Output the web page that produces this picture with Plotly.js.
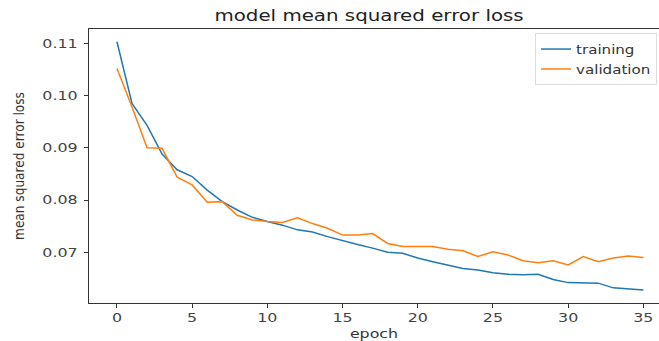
<!DOCTYPE html>
<html>
<head>
<meta charset="utf-8">
<script src="https://cdn.plot.ly/plotly-3.0.1.min.js"></script>
<style>html,body{margin:0;padding:0;background:#fff;}#chart{width:659px;height:341px;}</style>
</head>
<body>
<div id="chart"></div>
<script>
const epochs = [0,1,2,3,4,5,6,7,8,9,10,11,12,13,14,15,16,17,18,19,20,21,22,23,24,25,26,27,28,29,30,31,32,33,34,35];
const training = [0.1103,0.0985,0.0943,0.0888,0.0858,0.0845,0.0819,0.0797,0.0781,0.0767,0.0759,0.0752,0.0743,0.0739,0.0730,0.0722,0.0715,0.0708,0.0700,0.0698,0.0689,0.0682,0.0676,0.0669,0.0666,0.0661,0.0658,0.0657,0.0658,0.0648,0.0642,0.0641,0.0641,0.0632,0.0630,0.0628];
const validation = [0.1052,0.0978,0.0900,0.0899,0.0844,0.0829,0.0796,0.0797,0.0771,0.0762,0.0759,0.0757,0.0766,0.0755,0.0746,0.0733,0.0733,0.0736,0.0717,0.0711,0.0711,0.0711,0.0706,0.0703,0.0692,0.0701,0.0695,0.0684,0.0680,0.0684,0.0676,0.0692,0.0682,0.0689,0.0693,0.0690];
const xTicks = [0,5,10,15,20,25,30,35];
const yTicks = [0.07,0.08,0.09,0.10,0.11];
const yTickText = ['0.07','0.08','0.09','0.10','0.11'];

const traces = [
  {x: epochs, y: training, name: 'training', type: 'scatter', mode: 'lines', line: {color: '#1f77b4', width: 1.5}},
  {x: epochs, y: validation, name: 'validation', type: 'scatter', mode: 'lines', line: {color: '#ff7f0e', width: 1.5}}
];
const layout = {
  width: 659, height: 341,
  margin: {l: 89, r: 0, t: 29, b: 38, pad: 0},
  paper_bgcolor: '#fff', plot_bgcolor: '#fff',
  font: {family: 'DejaVu Sans', size: 12, color: '#333'},
  title: {text: 'model mean squared error loss', font: {family: 'DejaVu Sans', size: 15, color: '#222'}, x: 0.56, xanchor: 'center', y: 0.955, yanchor: 'middle'},
  xaxis: {
    range: [-1.86, 36.04], tickvals: xTicks, ticktext: xTicks.map(String),
    showgrid: false, zeroline: false, showline: true, linecolor: '#333', linewidth: 1, mirror: true,
    ticks: 'outside', ticklen: 4, tickcolor: '#333', tickfont: {size: 12, color: '#444'},
    title: {text: 'epoch', font: {size: 12, color: '#333'}, standoff: 6}
  },
  yaxis: {
    range: [0.0603, 0.11274], tickvals: yTicks, ticktext: yTickText,
    showgrid: false, zeroline: false, showline: true, linecolor: '#333', linewidth: 1,
    ticks: 'outside', ticklen: 4, tickcolor: '#333', tickfont: {size: 12, color: '#444'},
    ticklabelstandoff: 4,
    title: {text: 'mean squared error loss', font: {family: 'DejaVu Sans Condensed', size: 13.5, color: '#333'}, standoff: 23}
  },
  legend: {x: 0.997, y: 0.985, xanchor: 'right', yanchor: 'top', bgcolor: 'rgba(255,255,255,0.9)', bordercolor: '#ddd', borderwidth: 1, font: {size: 13, color: '#333'}, tracegroupgap: 0},
  showlegend: true
};
function stretch(t, f) {
  const L = t.getComputedTextLength();
  if (L > 0) {
    t.setAttribute('textLength', (L * f).toFixed(1));
    t.setAttribute('lengthAdjust', 'spacingAndGlyphs');
  }
  return L * (f - 1);
}
Plotly.newPlot('chart', traces, layout, {displayModeBar: false, staticPlot: true}).then(function(gd){
  ['.gtitle', '.xtick text', '.ytick text', '.g-xtitle text'].forEach(function(s){
    gd.querySelectorAll(s).forEach(function(t){ stretch(t, 1.32); });
  });
  // legend: stretch text and widen its box to the left
  let delta = 0;
  gd.querySelectorAll('.legend .legendtext').forEach(function(t){ delta = Math.max(delta, stretch(t, 1.16)); });
  const leg = gd.querySelector('.legend');
  if (leg && delta > 0) {
    const tr = leg.getAttribute('transform') || '';
    const m = tr.match(/translate\(([-\d.]+)[ ,]+([-\d.]+)\)/);
    if (m) leg.setAttribute('transform', 'translate(' + (parseFloat(m[1]) - delta) + ',' + m[2] + ')');
    const bg = leg.querySelector('rect.bg');
    if (bg) bg.setAttribute('width', parseFloat(bg.getAttribute('width')) + delta);
    const sb = leg.querySelector('.scrollbox');
    if (sb) sb.removeAttribute('clip-path');
  }
});
</script>
</body>
</html>
